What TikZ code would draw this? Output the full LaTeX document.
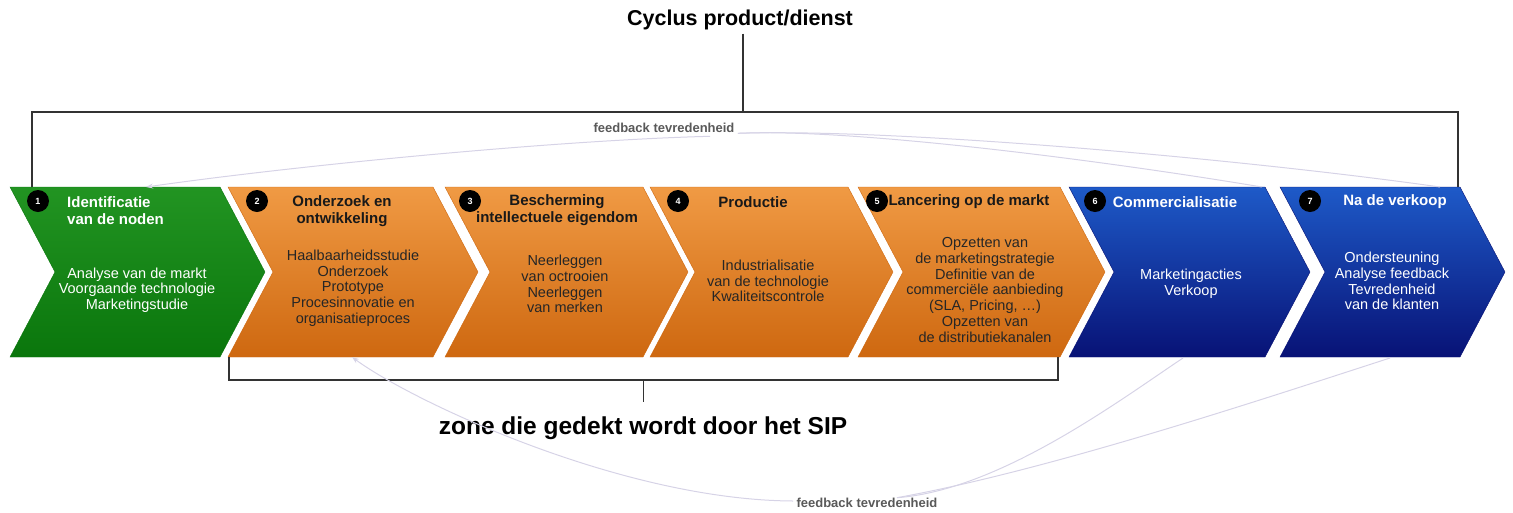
\documentclass[tikz,border=0pt]{standalone}
\usepackage{fontspec}
\setmainfont{Liberation Sans}
\usetikzlibrary{arrows.meta,calc}
\definecolor{topgreen}{RGB}{34,148,34}
\definecolor{botgreen}{RGB}{10,118,12}
\definecolor{toporange}{RGB}{240,154,68}
\definecolor{botorange}{RGB}{206,104,16}
\definecolor{topblue}{RGB}{30,90,200}
\definecolor{botblue}{RGB}{8,18,118}
\definecolor{fbline}{RGB}{214,211,230}
\tikzset{
  ttl/.style={font=\bfseries\fontsize{15}{17}\selectfont, align=center, inner sep=0pt, text=black!90},
  bdy/.style={font=\fontsize{14.5}{15.7}\selectfont, align=center, inner sep=0pt, text=black!85},
  numdot/.style={circle, fill=black, text=white, minimum size=22pt, inner sep=0pt, font=\bfseries\fontsize{9}{9}\selectfont},
  feedback/.style={draw=fbline, line width=1pt},
  fbtip/.style={-{Stealth[length=7pt,width=5pt]}},
  bar/.style={draw=black!80, line width=1.2pt},
  fbtext/.style={font=\bfseries\fontsize{13}{14}\selectfont, text=black!65},
}
\begin{document}
\begin{tikzpicture}[x=1pt,y=-1pt]
\useasboundingbox (0,0) rectangle (1513,512);
% chevrons of the cycle
\foreach \xa/\xb/\col in {10/265/green,228/478/orange,445/688/orange,650/893/orange,858/1105/orange,1069/1310/blue,1280/1505/blue}
  \draw[draw=bot\col, line width=0.4pt, top color=top\col, bottom color=bot\col]
    (\xa,187) -- (\xb-45,187) -- (\xb,272) -- (\xb-45,357) -- (\xa,357) -- (\xa+45,272) -- cycle;
\foreach \x/\n in {38/1,257/2,470/3,678/4,877/5,1095/6,1310/7}
  \node[numdot] (n\n) at (\x,201) {\n};
% titles
\node[ttl, text=white, align=left, anchor=west] (t1) at (67,211) {Identificatie\\van de noden};
\node[ttl] (t2) at (342,211) {Onderzoek en\\ontwikkeling};
\node[ttl] (t3) at (557,210) {Bescherming\\intellectuele eigendom};
\node[ttl] (t4) at (753,202) {Productie};
\node[ttl] (t5) at (969,202) {Lancering op de markt};
\node[ttl, text=white] (t6) at (1175,202) {Commercialisatie};
\node[ttl, text=white] (t7) at (1395,202) {Na de verkoop};
% contents
\node[bdy, text=white] (b1) at (137,290) {Analyse van de markt\\Voorgaande technologie\\Marketingstudie};
\node[bdy] (b2) at (353,288) {Haalbaarheidsstudie\\Onderzoek\\Prototype\\Procesinnovatie en\\organisatieproces};
\node[bdy] (b3) at (565,284) {Neerleggen\\van octrooien\\Neerleggen\\van merken};
\node[bdy] (b4) at (768,281) {Industrialisatie\\van de technologie\\Kwaliteitscontrole};
\node[bdy] (b5) at (985,290) {Opzetten van\\de marketingstrategie\\Definitie van de\\commerciële aanbieding\\(SLA, Pricing, …)\\Opzetten van\\de distributiekanalen};
\node[bdy, text=white] (b6) at (1191,284) {Marketingacties\\Verkoop};
\node[bdy, text=white] (b7) at (1392,281) {Ondersteuning\\Analyse feedback\\Tevredenheid\\van de klanten};
% top bracket
\node[font=\bfseries\fontsize{21.5}{24}\selectfont] (cyclus) at (740,20) {Cyclus product/dienst};
\coordinate (barL) at (32,112);
\coordinate (barR) at (1458,112);
\coordinate (barLd) at (32,187);
\coordinate (barRd) at (1458,187);
\draw[bar] ([xshift=3pt]cyclus.south) -- ([xshift=3pt]cyclus.south |- barL);
\draw[bar] (barLd) -- (barL) -- (barR) -- (barRd);
\draw[bar, line width=1.8pt] (barL) -- (barR);
% bottom bracket
\coordinate (sipL) at (229,380);
\coordinate (sipR) at (1058,380);
\coordinate (sipLu) at (229,357);
\coordinate (sipRu) at (1058,357);
\draw[bar] (sipLu) -- (sipL) -- (sipR) -- (sipRu);
\draw[bar, line width=1.8pt] (sipL) -- (sipR);
\node[font=\bfseries\fontsize{24.5}{28}\selectfont] (sip) at (643,428) {zone die gedekt wordt door het SIP};
\draw[bar] ($(sipL)!0.5!(sipR)$) -- ++(0,22);
% feedback loops
\node[fbtext] (fbtop) at (664,128) {feedback tevredenheid};
\node[fbtext] (fbbot) at (867,503) {feedback tevredenheid};
\coordinate (fbtopL) at ($(fbtop.south)+(46,0)$);
\coordinate (fbtopR) at ($(fbtop.south east)+(0,-3)$);
\coordinate (fbbotL) at ($(fbbot.west)+(0,-2)$);
\coordinate (fbbotR) at ($(fbbot.north)+(30,3)$);
\coordinate (c1top) at (146,187);
\coordinate (c6top) at (1262,187);
\coordinate (c7top) at (1440,187);
\coordinate (c2bot) at (352,357);
\coordinate (c6bot) at (1183,358);
\coordinate (c7bot) at (1390,358);
\draw[feedback, fbtip] (fbtopL) .. controls (560,140) and (300,165) .. (c1top);
\draw[feedback] (fbtopR) .. controls (850,128) and (1100,160) .. (c6top);
\draw[feedback] (fbtopR) .. controls (900,128) and (1250,160) .. (c7top);
\draw[feedback, fbtip] (fbbotL) .. controls (620,500) and (410,400) .. (c2bot);
\draw[feedback] (fbbotR) .. controls (1000,490) and (1120,400) .. (c6bot);
\draw[feedback] (fbbotR) .. controls (1050,470) and (1260,400) .. (c7bot);
\end{tikzpicture}
\end{document}
